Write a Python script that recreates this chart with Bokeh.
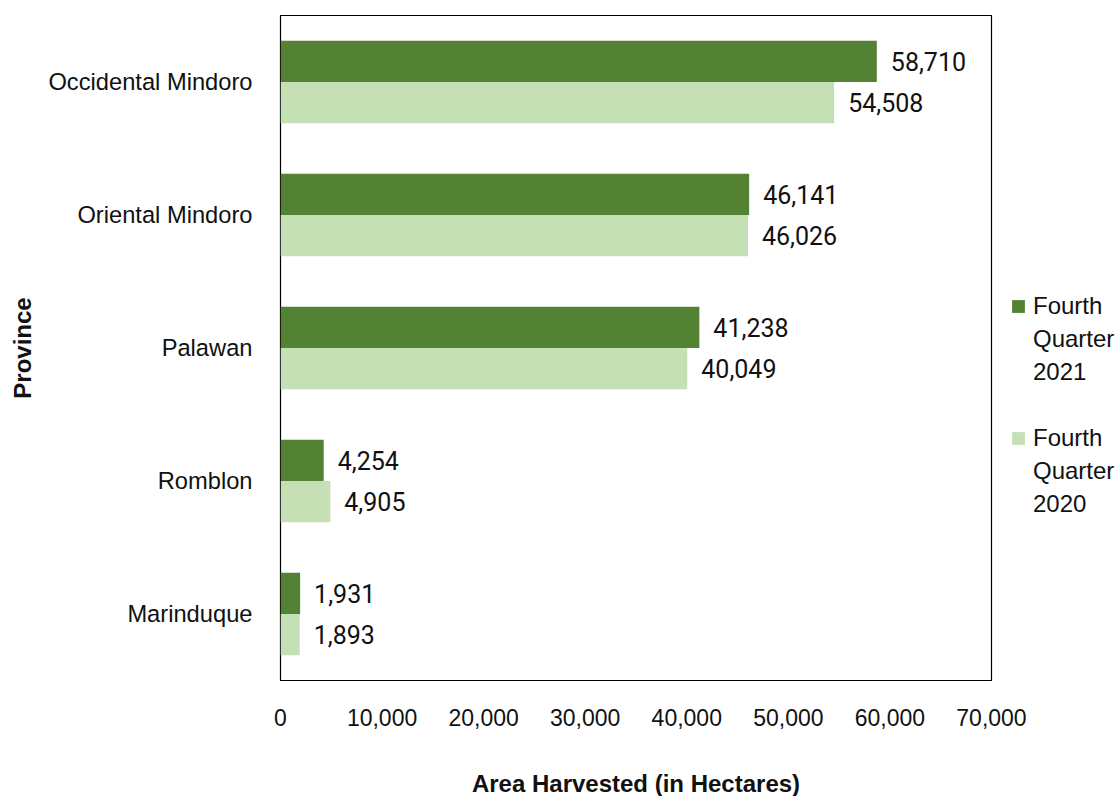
from bokeh.plotting import figure
from bokeh.models import (ColumnDataSource, FactorRange, Range1d, FixedTicker,
                          NumeralTickFormatter, Legend, LegendItem)
from bokeh.transform import dodge
from bokeh.core.properties import value
from bokeh.embed import file_html
from bokeh.resources import INLINE

provinces = ["Occidental Mindoro", "Oriental Mindoro", "Palawan", "Romblon", "Marinduque"]
q4_2021 = [58710, 46141, 41238, 4254, 1931]
q4_2020 = [54508, 46026, 40049, 4905, 1893]
series_lines = [["Fourth", "Quarter", "2021"], ["Fourth", "Quarter", "2020"]]
x_ticks = [0, 10000, 20000, 30000, 40000, 50000, 60000, 70000]

DARK = "#548235"
LIGHT = "#C5E0B4"
FONT = "Liberation Sans"
VFONT = "Roboto"
TXT = "#111111"

source = ColumnDataSource(dict(
    province=provinces,
    q2021=q4_2021,
    q2020=q4_2020,
    l2021=[f"{v:,}" for v in q4_2021],
    l2020=[f"{v:,}" for v in q4_2020],
))

p = figure(
    y_range=FactorRange(factors=list(reversed(provinces)), range_padding=0),
    x_range=Range1d(0, 70000),
    frame_width=711, frame_height=665,
    output_backend="svg", toolbar_location=None,
    min_border_left=280, min_border_top=15, min_border_bottom=10, min_border_right=122,
)

r1 = p.hbar(y=dodge("province", 0.155, range=p.y_range), right="q2021", left=0,
            height=0.31, color=DARK, line_color=None, source=source)
r2 = p.hbar(y=dodge("province", -0.155, range=p.y_range), right="q2020", left=0,
            height=0.31, color=LIGHT, line_color=None, source=source)
# invisible renderer used only for the continuation lines of the legend labels
blank = p.hbar(y=[], right=[], left=0, height=0.3, fill_alpha=0, line_alpha=0)

p.text(x="q2021", y=dodge("province", 0.155, range=p.y_range), text="l2021",
       x_offset=14, text_baseline="middle", text_align="left",
       text_font=value(VFONT), text_font_size="25px", text_color=TXT, source=source)
p.text(x="q2020", y=dodge("province", -0.155, range=p.y_range), text="l2020",
       x_offset=14, text_baseline="middle", text_align="left",
       text_font=value(VFONT), text_font_size="25px", text_color=TXT, source=source)

p.xgrid.visible = False
p.ygrid.visible = False
p.outline_line_color = "#000000"
p.outline_line_width = 1.2
p.outline_line_alpha = 1

for ax in (p.xaxis, p.yaxis):
    ax.axis_line_color = None
    ax.major_tick_line_color = None
    ax.minor_tick_line_color = None
    ax.major_label_text_font = FONT
    ax.major_label_text_color = TXT
    ax.axis_label_text_font = FONT
    ax.axis_label_text_font_size = "24px"
    ax.axis_label_text_font_style = "bold"
    ax.axis_label_text_color = TXT

p.xaxis.major_label_text_font_size = "23px"
p.yaxis.major_label_text_font_size = "23.7px"

p.xaxis.ticker = FixedTicker(ticks=x_ticks)
p.xaxis.formatter = NumeralTickFormatter(format="0,0")
p.xaxis.major_label_standoff = 22
p.xaxis.axis_label = "Area Harvested (in Hectares)"
p.xaxis.axis_label_standoff = 41

p.yaxis.axis_label = "Province"
p.yaxis.major_label_standoff = 22
p.yaxis.axis_label_standoff = 9

items = []
for k, (lines, rend) in enumerate(zip(series_lines, [r1, r2])):
    if k > 0:
        items.append(LegendItem(label=" ", renderers=[blank]))
    items.append(LegendItem(label=lines[0], renderers=[rend]))
    for ln in lines[1:]:
        items.append(LegendItem(label=ln, renderers=[blank]))

legend = Legend(
    items=items, location=(19, 160), orientation="vertical",
    label_text_font=FONT, label_text_font_size="24px", label_text_color=TXT,
    glyph_width=16, glyph_height=16, label_height=33, spacing=0,
    padding=0, margin=0, label_standoff=7,
    border_line_color=None, background_fill_alpha=0,
)
p.add_layout(legend, "right")

open("out.html", "w").write(file_html(p, INLINE))
